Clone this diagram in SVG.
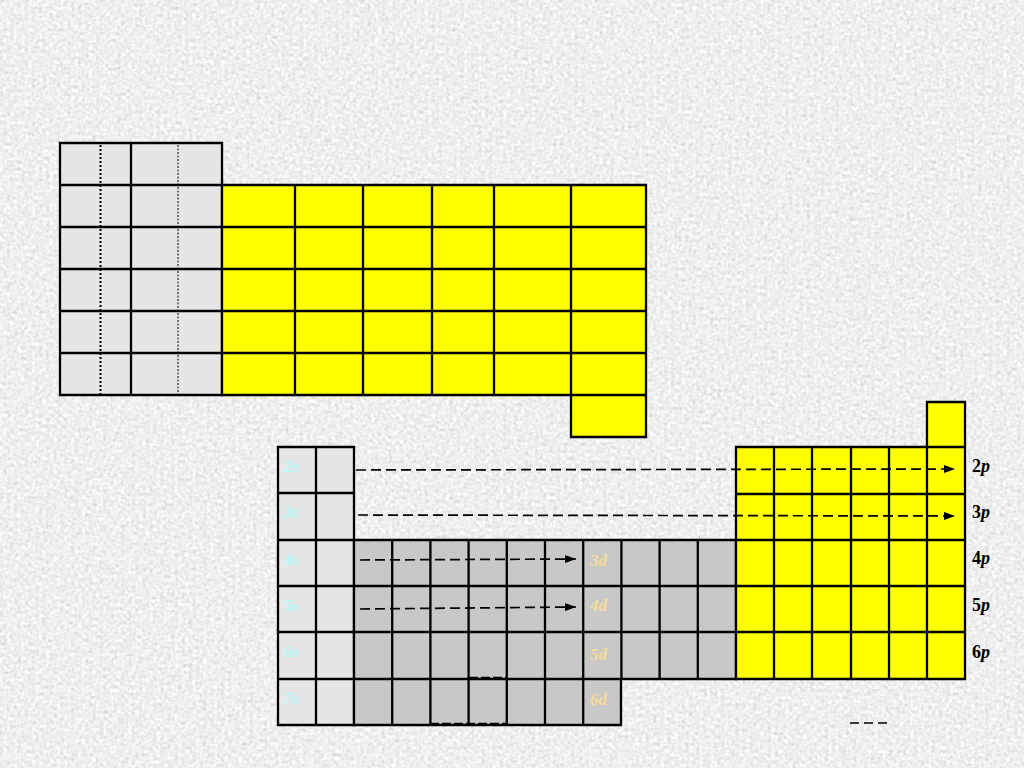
<svg xmlns="http://www.w3.org/2000/svg" width="1024" height="768" viewBox="0 0 1024 768">
<defs>
<filter id="granite" x="0" y="0" width="100%" height="100%">
<feTurbulence type="fractalNoise" baseFrequency="0.28" numOctaves="3" seed="3" result="n"/>
<feColorMatrix in="n" type="matrix" values="0.33 0.33 0.33 0 0  0.33 0.33 0.33 0 0  0.33 0.33 0.33 0 0  0 0 0 0 1" result="g"/>
<feComponentTransfer in="g">
<feFuncR type="linear" slope="0.75" intercept="0.49"/>
<feFuncG type="linear" slope="0.75" intercept="0.49"/>
<feFuncB type="linear" slope="0.75" intercept="0.49"/>
</feComponentTransfer>
</filter>
<marker id="ah" viewBox="0 0 10 10" refX="10" refY="5" markerWidth="11" markerHeight="8" markerUnits="userSpaceOnUse" orient="auto" preserveAspectRatio="none">
<path d="M0,0 L10,5 L0,10 Z" fill="#000"/>
</marker>
<style>
.s{fill:#E6E6E6}
.y{fill:#FFFF00}
.d{fill:#C8C8C8}
.g{stroke:#000;stroke-width:2.3;fill:none}
.dash{stroke:#000;stroke-width:1.7;stroke-dasharray:10,5;fill:none}
.sl{font-family:"Liberation Serif",serif;font-weight:bold;font-style:italic;font-size:16px;fill:#B4FBFB}
.dl{font-family:"Liberation Serif",serif;font-weight:bold;font-style:italic;font-size:17px;fill:#F4DC98}
.pl{font-family:"Liberation Serif",serif;font-weight:bold;font-size:18px;fill:#000}
</style>
</defs>
<rect width="1024" height="768" fill="#DCDCDC"/>
<rect width="1024" height="768" filter="url(#granite)"/>

<g id="top-s-block">
<rect class="s" x="60" y="143" width="162" height="252"/>
<path class="g" d="M60,143H222V395H60Z M131,143V395 M60,185H222 M60,227H222 M60,269H222 M60,311H222 M60,353H222"/>
<line x1="100.5" y1="145" x2="100.5" y2="394" stroke="#000" stroke-width="2" stroke-dasharray="2,2"/>
<line x1="178" y1="145" x2="178" y2="394" stroke="#000" stroke-width="1" stroke-dasharray="2,1.5"/>
</g>

<g id="top-p-block">
<rect class="y" x="222" y="185" width="424" height="210"/>
<rect class="y" x="571" y="395" width="75" height="42"/>
<path class="g" d="M222,185H646V437H571V395H222Z M295,185V395 M363,185V395 M432,185V395 M494,185V395 M571,185V395 M222,227H646 M222,269H646 M222,311H646 M222,353H646 M571,395H646"/>
</g>

<g id="s-block">
<rect class="s" x="278" y="447" width="76" height="278"/>
<path class="g" d="M278,447H354V725H278Z M316,447V725 M278,493H354 M278,540H354 M278,586H354 M278,632H354 M278,679H354"/>
<text class="sl" x="284" y="472">2s</text>
<text class="sl" x="284" y="518">3s</text>
<text class="sl" x="284" y="565">4s</text>
<text class="sl" x="284" y="611">5s</text>
<text class="sl" x="284" y="657">6s</text>
<text class="sl" x="284" y="704">7s</text>
</g>

<g id="d-block">
<rect class="d" x="354" y="540" width="382" height="139"/>
<rect class="d" x="354" y="679" width="267" height="46"/>
<path class="g" d="M354,540H736V679H621V725H354Z M392.2,540V725 M430.4,540V725 M468.6,540V725 M506.8,540V725 M545,540V725 M583.2,540V725 M621.4,540V679 M659.6,540V679 M697.8,540V679 M354,586H736 M354,632H736 M354,679H621"/>
<text class="dl" x="590" y="566">3d</text>
<text class="dl" x="590" y="611">4d</text>
<text class="dl" x="590" y="660">5d</text>
<text class="dl" x="590" y="705">6d</text>
</g>

<g id="p-block">
<rect class="y" x="736" y="447" width="229" height="232"/>
<rect class="y" x="927" y="402" width="38" height="45"/>
<path class="g" d="M736,447H927V402H965V679H736Z M774,447V679 M812,447V679 M851,447V679 M889,447V679 M927,447V679 M736,494H965 M736,540H965 M736,586H965 M736,632H965 M927,447H965"/>
<text class="pl" x="972" y="472">2<tspan font-style="italic">p</tspan></text>
<text class="pl" x="972" y="518">3<tspan font-style="italic">p</tspan></text>
<text class="pl" x="972" y="564">4<tspan font-style="italic">p</tspan></text>
<text class="pl" x="972" y="611">5<tspan font-style="italic">p</tspan></text>
<text class="pl" x="972" y="658">6<tspan font-style="italic">p</tspan></text>
</g>

<g id="connectors">
<line class="dash" x1="356" y1="470" x2="955" y2="469" marker-end="url(#ah)"/>
<line class="dash" x1="358" y1="515" x2="955" y2="516" marker-end="url(#ah)"/>
<line class="dash" x1="360" y1="560" x2="576" y2="559" marker-end="url(#ah)"/>
<line class="dash" x1="360" y1="609" x2="576" y2="607" marker-end="url(#ah)"/>
<line x1="469" y1="678" x2="506" y2="678" stroke="#000" stroke-width="2.5" stroke-dasharray="9,3"/>
<line x1="430" y1="724" x2="506" y2="724" stroke="#000" stroke-width="2.5" stroke-dasharray="9,3"/>
<line x1="850" y1="723" x2="889" y2="723" stroke="#000" stroke-width="1.6" stroke-dasharray="9,5"/>
</g>
</svg>
